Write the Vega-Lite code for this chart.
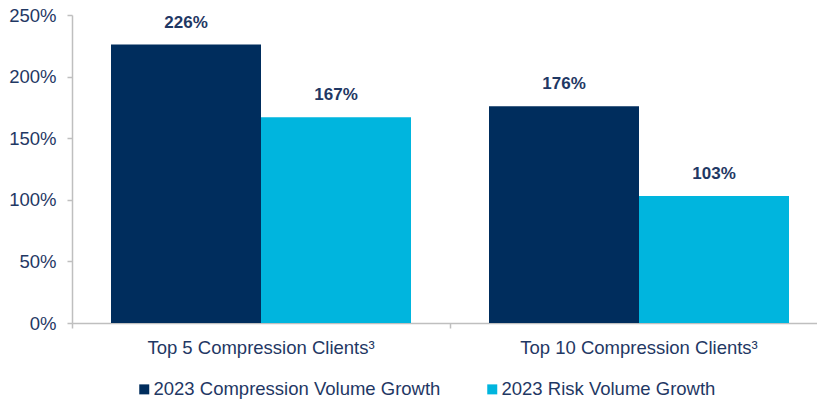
{
  "$schema": "https://vega.github.io/schema/vega-lite/v6.json",
  "width": 745,
  "height": 308,
  "autosize": {"type": "none"},
  "padding": {"left": 72, "top": 15, "right": 0, "bottom": 77},
  "background": "white",
  "config": {
    "view": {"stroke": null},
    "font": "Liberation Sans",
    "axis": {"grid": false}
  },
  "data": {
    "values": [
      {"group": "Top 5 Compression Clients³", "series": "2023 Compression Volume Growth", "value": 2.26},
      {"group": "Top 5 Compression Clients³", "series": "2023 Risk Volume Growth", "value": 1.67},
      {"group": "Top 10 Compression Clients³", "series": "2023 Compression Volume Growth", "value": 1.76},
      {"group": "Top 10 Compression Clients³", "series": "2023 Risk Volume Growth", "value": 1.03}
    ]
  },
  "encoding": {
    "x": {
      "field": "group",
      "type": "nominal",
      "sort": null,
      "title": null,
      "scale": {"range": [0, 756], "paddingInner": 0, "paddingOuter": 0},
      "axis": {
        "bandPosition": 0,
        "labelAngle": 0,
        "labelAlign": "center",
        "labelLimit": 400,
        "labelFontSize": 18.5,
        "labelColor": "#1F3864",
        "labelPadding": 10,
        "domainColor": "#BFBFBF",
        "domainWidth": 1.5,
        "tickColor": "#BFBFBF",
        "tickWidth": 1.5,
        "tickSize": 5
      }
    },
    "xOffset": {
      "field": "series",
      "type": "nominal",
      "sort": null,
      "scale": {"paddingInner": 0, "paddingOuter": 0.26}
    },
    "y": {
      "field": "value",
      "type": "quantitative",
      "title": null,
      "scale": {"domain": [0, 2.5], "nice": false},
      "axis": {
        "values": [0, 0.5, 1, 1.5, 2, 2.5],
        "format": ".0%",
        "labelFontSize": 18.5,
        "labelColor": "#1F3864",
        "labelPadding": 11,
        "domainColor": "#BFBFBF",
        "domainWidth": 1.5,
        "tickColor": "#BFBFBF",
        "tickWidth": 1.5,
        "tickSize": 5
      }
    }
  },
  "layer": [
    {
      "mark": {"type": "bar"},
      "encoding": {
        "color": {
          "field": "series",
          "type": "nominal",
          "sort": null,
          "scale": {"range": ["#002D5D", "#00B5DE"]},
          "legend": {
            "title": null,
            "orient": "none",
            "direction": "horizontal",
            "legendX": 63,
            "legendY": 365,
            "symbolType": "square",
            "symbolSize": 100,
            "symbolStrokeWidth": 0,
            "labelFontSize": 18.5,
            "labelColor": "#1F3864",
            "labelOffset": 0,
            "columnPadding": 42,
            "labelLimit": 400
          }
        }
      }
    },
    {
      "mark": {
        "type": "text",
        "baseline": "bottom",
        "dy": -13,
        "fontSize": 17,
        "fontWeight": "bold",
        "color": "#1F3864"
      },
      "encoding": {
        "text": {"field": "value", "type": "quantitative", "format": ".0%"}
      }
    }
  ]
}
